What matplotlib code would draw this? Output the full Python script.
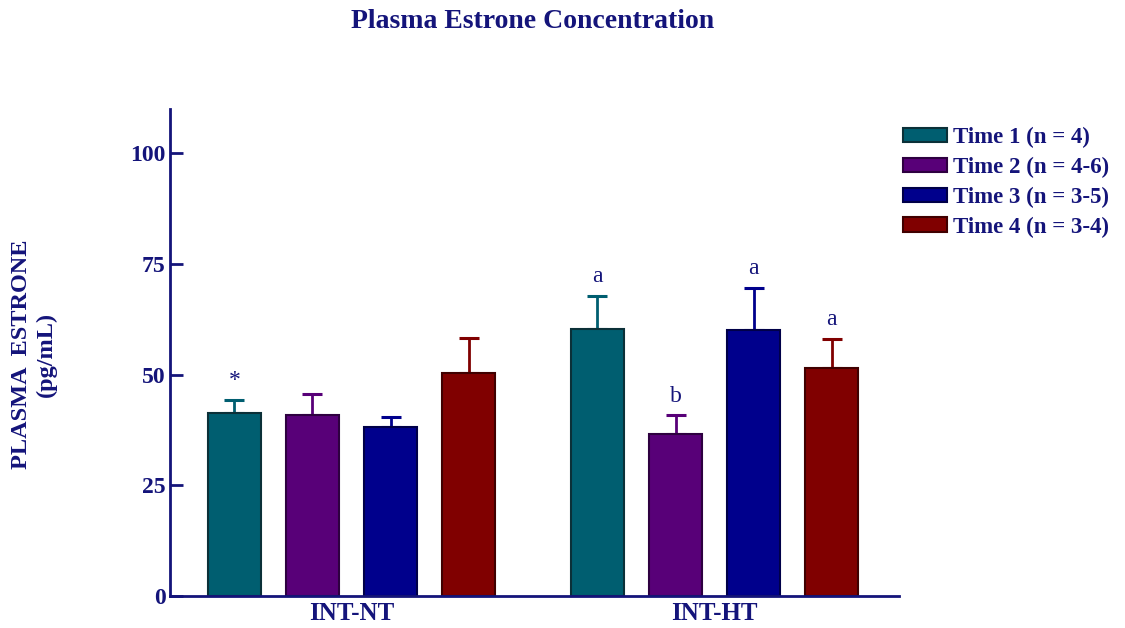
import matplotlib
matplotlib.use("Agg")
import matplotlib.pyplot as plt
import numpy as np

groups = ["INT-NT", "INT-HT"]
series = ["Time 1 (n = 4)", "Time 2 (n = 4-6)", "Time 3 (n = 3-5)", "Time 4 (n = 3-4)"]
means = [
    [41.3, 60.3],   # Time 1
    [40.8, 36.7],   # Time 2
    [38.1, 60.1],   # Time 3
    [50.3, 51.5],   # Time 4
]
sems = [
    [2.9, 7.5],
    [4.8, 4.1],
    [2.3, 9.5],
    [8.0, 6.5],
]
marks = [
    ["*", "a"],
    ["", "b"],
    ["", "a"],
    ["", "a"],
]
yticks = [0, 25, 50, 75, 100]

colors = ["#005e70", "#580078", "#00008c", "#800000"]
edges = ["#0b3038", "#2e0040", "#000048", "#400000"]
navy = "#14147a"
serif = ["Liberation Serif", "DejaVu Serif"]

fig = plt.figure(figsize=(11.25, 6.28), dpi=100)
ax = fig.add_axes([170 / 1125, 32 / 628, 729 / 1125, 487 / 628])

x = np.arange(len(groups))
step = 0.215
width = 0.146
for i, (m, s) in enumerate(zip(means, sems)):
    pos = x + (i - 1.5) * step
    ax.bar(pos, m, width, color=colors[i], edgecolor=edges[i], linewidth=1.5,
           label=series[i], zorder=2)
    ax.errorbar(pos, m, yerr=[np.zeros(len(s)), s], fmt="none", ecolor=colors[i],
                elinewidth=2, capsize=7, capthick=2.2, zorder=1)
    for p, mv, sv, t in zip(pos, m, s, marks[i]):
        if t:
            ax.text(p, mv + sv + 2.0, t, ha="center", va="bottom", color=navy,
                    fontsize=17, family=serif)

ax.set_xlim(-0.5, 1.508)
ax.set_ylim(0, 110)
ax.set_yticks(yticks)
ax.set_xticks(x)
ax.set_xticklabels(groups)
for sp in ["top", "right"]:
    ax.spines[sp].set_visible(False)
for sp in ["left", "bottom"]:
    ax.spines[sp].set_color(navy)
    ax.spines[sp].set_linewidth(2)
ax.tick_params(axis="y", direction="in", length=9, width=2, color=navy,
               labelcolor=navy, labelsize=17, pad=3)
ax.tick_params(axis="x", length=0, labelcolor=navy, labelsize=18, pad=4)
for lab in ax.get_yticklabels() + ax.get_xticklabels():
    lab.set_family(serif)
    lab.set_fontweight("bold")

fig.text(533 / 1125, 1 - 21 / 628, "Plasma Estrone Concentration", ha="center",
         va="center", color=navy, fontsize=20, fontweight="bold", family=serif)
fig.text(22 / 1125, 1 - 354 / 628, "PLASMA  ESTRONE", rotation=90, ha="center",
         va="center", color=navy, fontsize=17.5, fontweight="bold", family=serif)
fig.text(46 / 1125, 1 - 354 / 628, "(pg/mL)", rotation=90, ha="center",
         va="center", color=navy, fontsize=17.5, fontweight="bold", family=serif)

leg = fig.legend(loc="upper left", bbox_to_anchor=(903 / 1125, 1 - 127 / 628),
                 frameon=False, borderpad=0, borderaxespad=0,
                 prop={"family": serif, "weight": "bold", "size": 16.5},
                 handlelength=1.9, handleheight=0.6, handletextpad=0.3,
                 labelspacing=0.38)
for t in leg.get_texts():
    t.set_color(navy)

fig.savefig("out.png", dpi=100)
